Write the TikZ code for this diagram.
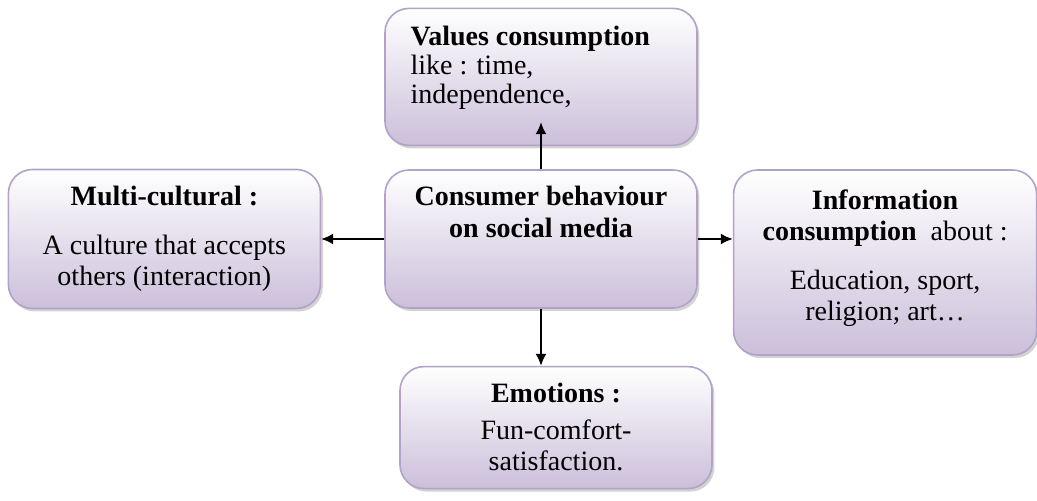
\documentclass[tikz,border=0pt]{standalone}
\usepackage{fontspec}
\setmainfont{Liberation Serif}
\usetikzlibrary{arrows.meta,positioning,shadows}
\definecolor{lav}{HTML}{CBBFDA}
\definecolor{lavedge}{HTML}{B3A2C7}

\begin{document}
\begin{tikzpicture}[font=\fontsize{14}{15.5}\selectfont,
  box/.style={draw=lavedge,line width=0.8pt,rounded corners=12pt,
    top color=white,bottom color=lav,minimum width=156pt,
    drop shadow={shadow xshift=1.2pt,shadow yshift=-1.5pt,opacity=0.35}},
  txt/.style={inner sep=0pt,align=center},
  arr/.style={-{Latex[length=6pt,width=5.5pt]},line width=0.9pt}]
  \useasboundingbox (-270.5pt,-131pt) rectangle (248pt,119.5pt);
  % boxes
  \node[box,minimum height=69pt] (consumer) at (0,0) {};
  \node[box,minimum height=68.5pt,above=11.5pt of consumer] (values) {};
  \node[box,minimum height=69.5pt,left=31.5pt of consumer] (multi) {};
  \node[box,minimum width=151.5pt,minimum height=92.5pt,
    right=17.5pt of consumer.north east,anchor=north west] (info) {};
  \node[box,minimum height=61pt,below=28.5pt of consumer,xshift=7.5pt] (emotions) {};
  % texts
  \node[txt,below=8pt of consumer.north] (consumertxt)
    {\textbf{Consumer behaviour}\\[0.5pt]\textbf{on social media}};
  \node[txt,align=left,below right=9pt and 13pt of values.north west] (valuestxt)
    {\textbf{Values consumption}\\[-1pt]like : time,\\[-1pt]independence,};
  \node[txt,below=8.5pt of multi.north] (multitxt)
    {\textbf{Multi-cultural :}\\[9pt]A culture that accepts\\others (interaction)};
  \node[txt,below=10pt of info.north] (infotxt)
    {\textbf{Information}\\\textbf{consumption}\enspace about :\\[9pt]Education, sport,\\religion; art…};
  \node[txt,below=8.5pt of emotions.north] (emotionstxt)
    {\textbf{Emotions :}\\[3pt]Fun-comfort-\\satisfaction.};
  % arrows
  \coordinate (valuestip) at ([yshift=12pt]values.south);
  \draw[arr] (consumer.north) -- (valuestip);
  \draw[arr] (consumer.west) -- (multi.east);
  \draw[arr] (consumer.east) -- (consumer.east -| info.west);
  \draw[arr] (consumer.south) -- (consumer.south |- emotions.north);
\end{tikzpicture}
\end{document}
